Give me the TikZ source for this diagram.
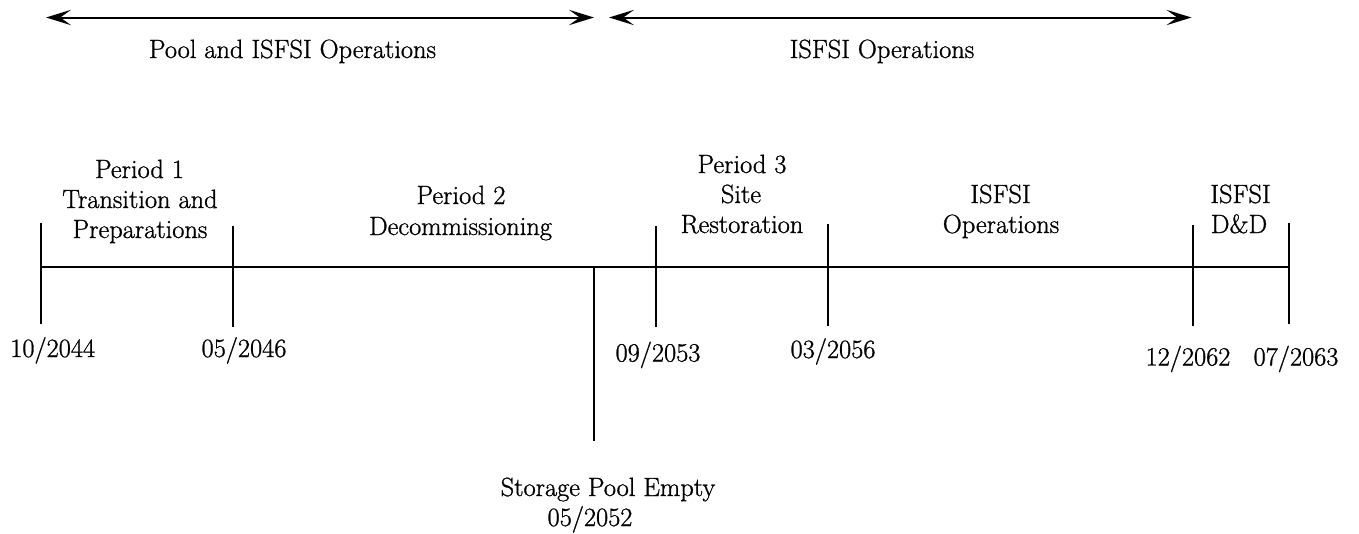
\documentclass[tikz,border=0pt]{standalone}
\usepackage{fontspec}
\setmainfont{Latin Modern Roman}[FakeBold=1.0]
\usetikzlibrary{arrows.meta}
\begin{document}
\begin{tikzpicture}[x=0.75pt,y=-0.75pt,
  lbl/.style={inner sep=0pt, anchor=base, font=\fontsize{19.8}{23.5}\selectfont},
  rule/.style={line width=1.5pt},
  tickline/.style={line width=1.4pt},
  span/.style={line width=1.5pt,
    {Stealth[length=18.75pt,width=11.5pt,inset=8pt]}-{Stealth[length=18.75pt,width=11.5pt,inset=8pt]}}]
\useasboundingbox (0,0) rectangle (1359,533);

% top spans
\coordinate (a1l) at (46,17.5);
\coordinate (a1r) at (594,17.5);
\coordinate (a2l) at (609,17.5);
\coordinate (a2r) at (1191.5,17.5);
\draw[span] (a1l) -- (a1r);
\draw[span] (a2l) -- (a2r);
\node[lbl] (pool) at (292.5,58) {Pool and ISFSI Operations};
\node[lbl] (isfsitop) at (882,58) {ISFSI Operations};

% main line
\coordinate (ml) at (40.7,267);
\coordinate (mr) at (1289,267);
\draw[rule] (ml) -- (mr);

% ticks
\coordinate (t1a) at (40.7,223);  \coordinate (t1b) at (40.7,324);
\coordinate (t2a) at (232.7,226); \coordinate (t2b) at (232.7,327);
\coordinate (tsa) at (594,267);   \coordinate (tsb) at (594,440.7);
\coordinate (t3a) at (655.7,226); \coordinate (t3b) at (655.7,327);
\coordinate (t4a) at (828,224);   \coordinate (t4b) at (828,326);
\coordinate (t5a) at (1193,225);  \coordinate (t5b) at (1193,326);
\coordinate (t6a) at (1289,223);  \coordinate (t6b) at (1289,324);
\draw[tickline] (t1a) -- (t1b);
\draw[tickline] (t2a) -- (t2b);
\draw[tickline] (tsa) -- (tsb);
\draw[tickline] (t3a) -- (t3b);
\draw[tickline] (t4a) -- (t4b);
\draw[tickline] (t5a) -- (t5b);
\draw[tickline] (t6a) -- (t6b);

% period labels
\node[lbl] (p1a) at (139.5,178) {Period 1};
\node[lbl] (p1b) at (140,208) {Transition and};
\node[lbl] (p1c) at (140,238) {Preparations};

\node[lbl] (p2a) at (461,204) {Period 2};
\node[lbl] (p2b) at (460.5,235) {Decommissioning};

\node[lbl] (p3a) at (742,173) {Period 3};
\node[lbl] (p3b) at (741,203) {Site};
\node[lbl] (p3c) at (742,233) {Restoration};

\node[lbl] (opa) at (1000.5,203) {ISFSI};
\node[lbl] (opb) at (1001,233) {Operations};

\node[lbl] (dda) at (1240.5,203) {ISFSI};
\node[lbl] (ddb) at (1239,233) {D\&D};

% dates
\node[lbl] (d1) at (52.7,357) {10/2044};
\node[lbl] (d2) at (244,357) {05/2046};
\node[lbl] (d3) at (658,361.5) {09/2053};
\node[lbl] (d4) at (833,358) {03/2056};
\node[lbl] (d5) at (1188,365.5) {12/2062};
\node[lbl] (d6) at (1296,365.5) {07/2063};

\node[lbl] (sp) at (608,496) {Storage Pool Empty};
\node[lbl] (spd) at (590,526) {05/2052};
\end{tikzpicture}
\end{document}
